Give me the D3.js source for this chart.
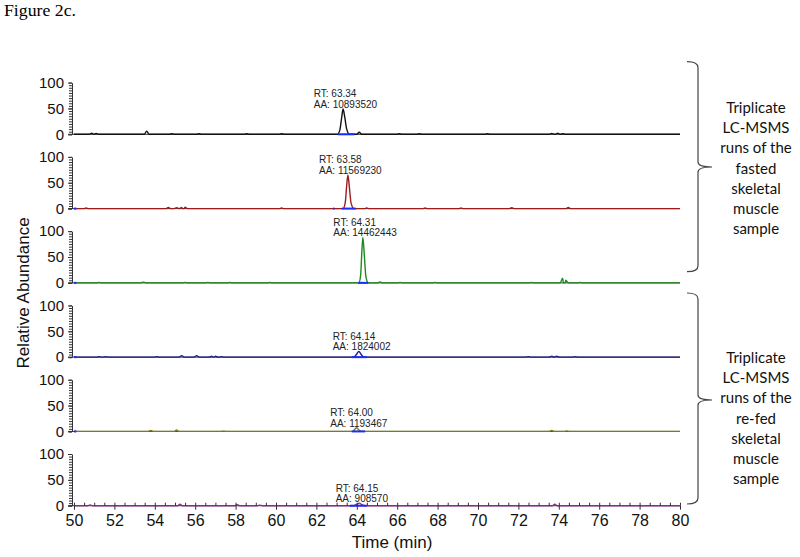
<!DOCTYPE html>
<html>
<head>
<meta charset="utf-8">
<script src="https://cdn.jsdelivr.net/npm/d3@7"></script>
<style>
  body { margin: 0; background: #fff; }
  svg { display: block; }
</style>
</head>
<body>
<div id="chart"></div>
<script>
// six chromatogram runs, top to bottom
const runNames = ["fasted 1", "fasted 2", "fasted 3", "re-fed 1", "re-fed 2", "re-fed 3"];
const runColors = ["#111111", "#9e1b1b", "#1f8a1f", "#1c1c8c", "#7d7d14", "#8e2a8e"];
const peakRT = [63.34, 63.58, 64.31, 64.14, 64.00, 64.15];
const peakAA = ["10893520", "11569230", "14462443", "1824002", "1193467", "908570"];

// main peak of each run: [time, relative abundance]
const peakShapes = [
  [[63.04, 0], [63.16, 8], [63.25, 32], [63.32, 49], [63.40, 34], [63.50, 10], [63.64, 0]],
  [[63.32, 0], [63.43, 12], [63.50, 45], [63.56, 65], [63.63, 42], [63.72, 10], [63.86, 0]],
  [[64.10, 0], [64.19, 15], [64.25, 60], [64.30, 88], [64.37, 55], [64.45, 12], [64.57, 0]],
  [[63.85, 0], [63.98, 5], [64.10, 11], [64.22, 5], [64.35, 0]],
  [[63.80, 0], [63.90, 4], [63.99, 7], [64.10, 3], [64.25, 0]],
  [[63.85, 0], [64.00, 3], [64.13, 5], [64.25, 2], [64.40, 0]]
];

// small noise bumps along the baseline: [time, relative abundance]
const bumps = [
  [[50.87, 2], [51.1, 1.5], [53.6, 6], [54.84, 1], [56.19, 1], [58.55, 1], [60.28, 1], [64.12, 4],
   [66.1, 1], [67.1, 1], [70.46, 1], [73.65, 1.5], [73.95, 2], [74.2, 1]],
  [[50.6, 1], [54.67, 2], [55.08, 1.5], [55.33, 2], [55.5, 2.5], [60.28, 1], [64.49, 1],
   [67.38, 1], [69.16, 1], [71.67, 1.5], [74.47, 2]],
  [[51.24, 1], [53.43, 1.5], [55.5, 1], [56.63, 1], [57.72, 1], [59.7, 1], [65.15, 2],
   [66.14, 1], [67.87, 1], [72.65, 1], [74.19, 9], [74.35, 5], [75.05, 1]],
  [[51.24, 1], [51.57, 1], [54.1, 1], [55.33, 3], [56.07, 3], [56.82, 2], [57.0, 2], [57.3, 1],
   [72.49, 1], [73.65, 2], [73.9, 2], [74.8, 1]],
  [[53.8, 2], [55.08, 3], [57.4, 0.5], [73.65, 2], [74.4, 1]],
  [[50.8, 1.5], [55.25, 3], [58.08, 2], [59.2, 1], [73.8, 3]]
];

// integrated peak ranges (blue baseline marks)
const integration = [
  [[63.06, 63.88]],
  [[50.0, 50.12], [62.82, 62.9], [63.25, 63.95]],
  [[50.0, 50.12], [64.07, 64.57]],
  [[50.0, 50.12], [63.75, 64.49]],
  [[50.0, 50.12], [63.75, 64.41]],
  [[63.66, 64.49]]
];

const xDomain = [50, 80];
const xTickValues = [50, 52, 54, 56, 58, 60, 62, 64, 66, 68, 70, 72, 74, 76, 78, 80];
const yTickValues = [0, 50, 100];

const braceGroups = [
  { lines: ["Triplicate", "LC-MSMS", "runs of the", "fasted", "skeletal", "muscle", "sample"] },
  { lines: ["Triplicate", "LC-MSMS", "runs of the", "re-fed", "skeletal", "muscle", "sample"] }
];

const width = 800, height = 557;
const svg = d3.select("#chart").append("svg")
  .attr("width", width)
  .attr("height", height)
  .style("font-family", "Arial, 'Liberation Sans', sans-serif");

svg.append("rect").attr("width", width).attr("height", height).attr("fill", "#fff");

svg.append("text")
  .attr("x", 4).attr("y", 16)
  .attr("textLength", 72)
  .attr("lengthAdjust", "spacingAndGlyphs")
  .style("font-family", "'Liberation Serif', 'Times New Roman', serif")
  .style("font-size", "17px")
  .text("Figure 2c.");

const x = d3.scaleLinear().domain(xDomain).range([74, 680]);
const baseY = d3.scalePoint().domain(d3.range(runNames.length)).range([134.3, 505.7]);
const y = d3.scaleLinear().domain([0, 100]).range([0, -51.7]);

const line = d3.line()
  .x(d => x(d[0]))
  .y(d => y(d[1]))
  .curve(d3.curveMonotoneX);

const bumpHalf = 0.12;

runNames.forEach((name, i) => {
  const g = svg.append("g").attr("transform", `translate(0,${baseY(i)})`);

  // y axis with minor ticks
  g.append("g")
    .attr("transform", "translate(72,0)")
    .call(d3.axisLeft(y).tickValues(d3.range(0, 101, 5)).tickSize(3).tickSizeOuter(0).tickFormat(""))
    .call(a => a.selectAll("line,path").attr("stroke", "#333"));
  g.append("g")
    .attr("transform", "translate(72,0)")
    .call(d3.axisLeft(y).tickValues(yTickValues).tickSize(4).tickSizeOuter(0).tickPadding(4))
    .call(a => a.select(".domain").remove())
    .call(a => a.selectAll("line").attr("stroke", "#333"))
    .call(a => a.selectAll("text").attr("fill", "#111").style("font-size", "15px")
      .style("font-family", "Arial, 'Liberation Sans', sans-serif"));

  // baseline axis line
  g.append("line")
    .attr("x1", 68).attr("x2", x(xDomain[1]))
    .attr("y1", y(0)).attr("y2", y(0))
    .attr("stroke", "#333").attr("stroke-width", 1);

  // trace points
  const pts = [[xDomain[0], 0]];
  bumps[i].forEach(b => {
    pts.push([b[0] - bumpHalf, 0], [b[0], b[1]], [b[0] + bumpHalf, 0]);
  });
  peakShapes[i].forEach(p => pts.push(p));
  pts.push([xDomain[1], 0]);
  pts.sort((a, b) => a[0] - b[0]);

  g.append("path")
    .datum(pts)
    .attr("fill", "none")
    .attr("stroke", runColors[i])
    .attr("stroke-width", 1.4)
    .attr("d", line);

  // integration marks
  g.selectAll(".integ")
    .data(integration[i])
    .join("line")
    .attr("class", "integ")
    .attr("x1", d => x(d[0])).attr("x2", d => x(d[1]))
    .attr("y1", y(0)).attr("y2", y(0))
    .attr("stroke", "#1a2cff").attr("stroke-width", 2);

  // peak label
  const top = d3.max(peakShapes[i], d => d[1]);
  const lbl = g.append("g").style("font-size", "10px").attr("fill", "#222");
  const aa = lbl.append("text")
    .attr("y", y(top) - 1)
    .text("AA: " + peakAA[i]);
  const w = aa.node().getComputedTextLength();
  const lx = x(peakRT[i]) + 2 - w / 2;
  aa.attr("x", lx);
  lbl.append("text")
    .attr("x", lx)
    .attr("y", y(top) - 11.5)
    .text("RT: " + peakRT[i].toFixed(2));
});

// bottom x axis
const last = baseY(runNames.length - 1);
svg.append("g")
  .attr("transform", `translate(0,${last})`)
  .call(d3.axisBottom(x).tickValues(d3.range(50, 80.01, 0.5)).tickSize(-3).tickSizeOuter(0).tickFormat(""))
  .call(a => a.select(".domain").remove())
  .call(a => a.selectAll("line").attr("stroke", "#333"));
svg.append("g")
  .attr("transform", `translate(0,${last})`)
  .call(d3.axisBottom(x).tickValues(xTickValues).tickSize(4).tickSizeOuter(0).tickPadding(5))
  .call(a => a.select(".domain").remove())
  .call(a => a.selectAll("line").attr("stroke", "#333"))
  .call(a => a.selectAll("text").attr("fill", "#111").style("font-size", "16px")
    .style("font-family", "Arial, 'Liberation Sans', sans-serif"));

// axis titles
svg.append("text")
  .attr("transform", "translate(29,293) rotate(-90)")
  .attr("text-anchor", "middle")
  .style("font-size", "17px")
  .attr("fill", "#111")
  .text("Relative Abundance");

svg.append("text")
  .attr("x", 392).attr("y", 548)
  .attr("text-anchor", "middle")
  .style("font-size", "17px")
  .attr("fill", "#111")
  .text("Time (min)");

// braces on the right
const braces = [
  { top: 61.7, bot: 271.7, mid: 167, textY: 113 },
  { top: 293, bot: 504, mid: 400, textY: 363 }
];
const bx = 698, hookX = 687, tipX = 712;
braces.forEach((b, k) => {
  const p = d3.path();
  p.moveTo(hookX, b.top);
  p.quadraticCurveTo(bx, b.top, bx, b.top + 6);
  p.lineTo(bx, b.mid - 5);
  p.quadraticCurveTo(bx, b.mid, tipX, b.mid);
  p.quadraticCurveTo(bx, b.mid, bx, b.mid + 5);
  p.lineTo(bx, b.bot - 6);
  p.quadraticCurveTo(bx, b.bot, hookX, b.bot);
  svg.append("path")
    .attr("d", p.toString())
    .attr("fill", "none")
    .attr("stroke", "#444")
    .attr("stroke-width", 1.2);

  svg.append("g")
    .selectAll("text")
    .data(braceGroups[k].lines)
    .join("text")
    .attr("x", 756)
    .attr("y", (d, j) => b.textY + j * 20.2)
    .attr("text-anchor", "middle")
    .style("font-family", "Lato, 'Open Sans', sans-serif")
    .style("font-size", "15px")
    .attr("fill", "#111")
    .text(d => d);
});
</script>
</body>
</html>
